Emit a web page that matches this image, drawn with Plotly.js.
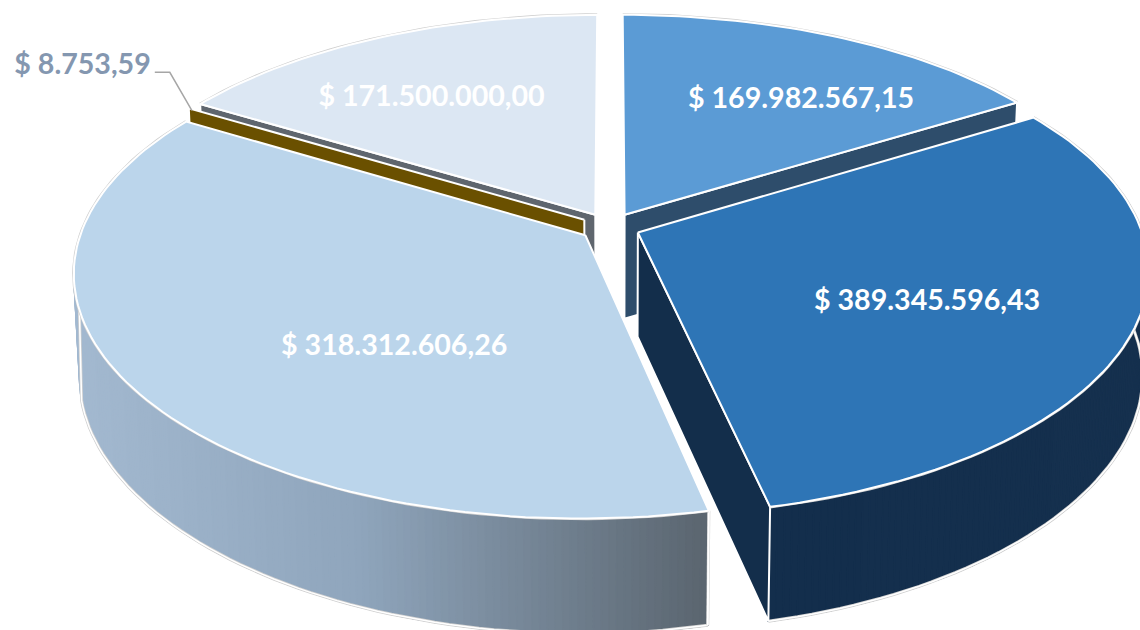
<!DOCTYPE html>
<html><head><meta charset="utf-8">
<script src="https://cdn.plot.ly/plotly-3.0.1.min.js"></script>
<style>html,body{margin:0;padding:0;background:#fff}#chart{width:1140px;height:630px}</style>
</head><body><div id="chart"></div>
<script>
// Drawn order clockwise from 12 o'clock. The picture's wedge sizes match these values;
// its printed labels on the second and third wedges are the other way round, kept as drawn.
const sliceValues = [169982567.15, 318312606.26, 389345596.43, 8753.59, 171500000.00];
const sliceLabels = ["$ 169.982.567,15", "$ 389.345.596,43", "$ 318.312.606,26", "$ 8.753,59", "$ 171.500.000,00"];
const topColors   = ["#5B9BD5", "#2E75B6", "#BBD5EB", "#7F6000", "#DCE7F3"];
const labelColors = ["#FFFFFF", "#FFFFFF", "#FFFFFF", "#8497B0", "#FFFFFF"];
const cutWallColors = ["#2E4D6B", "#132E4B", null, "#6A5000", "#5F666E"];
const outerWallStops = [
  null,
  [[0, "#132E4C"], [1, "#15304E"]],
  [[0, "#A3B9D0"], [0.45, "#8FA5BC"], [1, "#5A656F"]],
  null, null
];

// Projection of the tilted pie (style, not data)
const view = {cx: 610, cy: 227, R: 502.5, Ry: 235.4, kx: 0.15, ky: 0.159, explode: 0.06,
              botCy: 331, botR: 497, botRy: 238, botKx: 0.15, botKy: 0.18};
function project(u, v, bottom) {
  return bottom
    ? [view.cx + view.botR * u / (1 + view.botKx * v), view.botCy - view.botRy * v / (1 + view.botKy * v)]
    : [view.cx + view.R * u / (1 + view.kx * v), view.cy - view.Ry * v / (1 + view.ky * v)];
}
const rad = d => d * Math.PI / 180;
const total = sliceValues.reduce((a, b) => a + b, 0);
let acc = 0;
const slices = sliceValues.map((val, i) => {
  const a = acc; acc += val / total * 360;
  const b = acc, m = (a + b) / 2;
  return {i, a, b, m, ou: view.explode * Math.sin(rad(m)), ov: view.explode * Math.cos(rad(m))};
});
function pt(s, deg, r, bottom) {
  return project(s.ou + r * Math.sin(rad(deg)), s.ov + r * Math.cos(rad(deg)), bottom);
}
function rimOf(s, bottom, from, to, step) {
  from = from === undefined ? s.a : from; to = to === undefined ? s.b : to;
  const n = Math.max(1, Math.ceil((to - from) / (step || 1.5))), out = [];
  for (let j = 0; j <= n; j++) out.push(pt(s, from + (to - from) * j / n, 1, bottom));
  return out;
}
const traces = [];
function poly(points, fill, lineColor, lineWidth) {
  traces.push({type: "scatter", mode: "lines", x: points.map(p => p[0]), y: points.map(p => p[1]),
    fill: "toself", fillcolor: fill, line: {color: lineColor || fill, width: lineWidth === undefined ? 0.6 : lineWidth},
    hoverinfo: "skip", showlegend: false});
}
function path(points, color, width) {
  traces.push({type: "scatter", mode: "lines", x: points.map(p => p[0]), y: points.map(p => p[1]),
    line: {color, width}, hoverinfo: "skip", showlegend: false});
}
function cutWall(s, deg) {
  const q = [pt(s, deg, 0, false), pt(s, deg, 1, false), pt(s, deg, 1, true), pt(s, deg, 0, true)];
  poly(q.concat([q[0]]), cutWallColors[s.i], "#FFFFFF", 2);
}
function hex(c) { return [1, 3, 5].map(o => parseInt(c.substr(o, 2), 16)); }
function grad(stops, t) {
  for (let j = 1; j < stops.length; j++) if (t <= stops[j][0]) {
    const f = (t - stops[j-1][0]) / (stops[j][0] - stops[j-1][0]);
    const A = hex(stops[j-1][1]), B = hex(stops[j][1]);
    return "rgb(" + A.map((c, n) => Math.round(c + (B[n] - c) * f)).join(",") + ")";
  }
  return stops[stops.length - 1][1];
}
// Outer wall between two angles; the outline leaves the bottom rim at tangentB and
// climbs to the top rim at tangentT (the silhouette), when those are given.
function outerWall(s, from, to, tangentB, tangentT) {
  const T = rimOf(s, false, from, to, 0.75), B = rimOf(s, true, from, to, 0.75);
  const xmin = Math.min(...T.map(p => p[0])), xmax = Math.max(...T.map(p => p[0]));
  for (let j = T.length - 2; j >= 0; j--) {
    const t = ((T[j][0] + T[j+1][0]) / 2 - xmin) / (xmax - xmin);
    const c = grad(outerWallStops[s.i], t);
    poly([T[j], T[j+1], B[j+1], B[j], T[j]], c, c, 1.6);
  }
  let outline = rimOf(s, true, from, tangentB === undefined ? to : tangentB);
  if (tangentT !== undefined) {
    const tb = pt(s, tangentB, 1, true), tt = pt(s, tangentT, 1, false);
    poly([tb, tt, pt(s, tangentB, 1, false), tb], grad(outerWallStops[s.i], 0));
    outline = outline.concat([tt]);
  }
  path(outline, "#D0D0D0", 3);
  path(outline, "#FFFFFF", 1.5);
  const e = [T[0], B[0]];
  path(e, "#D0D0D0", 3);
  path(e, "#FFFFFF", 2);
}
function topFace(s) {
  const apex = pt(s, s.a, 0, false);
  const r = rimOf(s, false);
  path(r, "#CFCFCF", 3.2);
  poly([apex].concat(r, [apex]), topColors[s.i], "#FFFFFF", 2);
}
const [s1, s2, s3, s0, s4] = slices;

// Back to front
cutWall(s1, s1.b);
topFace(s1);
cutWall(s4, s4.a);
topFace(s4);
cutWall(s0, s0.m);
outerWall(s3, s3.a, 262, 256, 268);
topFace(s3);
outerWall(s2, 75, s2.b);
cutWall(s2, s2.b);
topFace(s2);

// Value labels, placed by angle and radius fraction inside each wedge
const labelDrop = 3;
const labelPolar = {0: [35, .672], 1: [116.5, .612], 2: [219.2, .555], 4: [327.4, .665]};
Object.keys(labelPolar).forEach(k => {
  const s = slices[+k], p = pt(s, labelPolar[k][0], labelPolar[k][1], false);
  traces.push({type: "scatter", mode: "text", x: [p[0]], y: [p[1] + labelDrop], text: [sliceLabels[+k]],
    textposition: "middle center", textfont: {family: "Lato, Carlito, sans-serif", size: 28.6, color: labelColors[+k], weight: 700},
    cliponaxis: false, hoverinfo: "skip", showlegend: false});
});
// Leader for the very small wedge
const rimPoint = pt(s0, s0.m, 1, false);
const elbow = [rimPoint[0] - 19, rimPoint[1] - 36];
path([[rimPoint[0] + 3, rimPoint[1] + 2], elbow, [elbow[0] - 15, elbow[1]]], "#A6A6A6", 1.5);
traces.push({type: "scatter", mode: "text", x: [elbow[0] - 19], y: [elbow[1] - 8 + labelDrop], text: [sliceLabels[3]],
  textposition: "middle left", textfont: {family: "Lato, Carlito, sans-serif", size: 28.6, color: labelColors[3], weight: 700},
  cliponaxis: false, hoverinfo: "skip", showlegend: false});

Plotly.newPlot("chart", traces, {
  width: 1140, height: 630, margin: {l: 0, r: 0, t: 0, b: 0, pad: 0},
  paper_bgcolor: "#FFFFFF", plot_bgcolor: "#FFFFFF", showlegend: false,
  xaxis: {range: [0, 1140], visible: false, fixedrange: true},
  yaxis: {range: [630, 0], visible: false, fixedrange: true}
}, {displayModeBar: false, staticPlot: true});
</script></body></html>
